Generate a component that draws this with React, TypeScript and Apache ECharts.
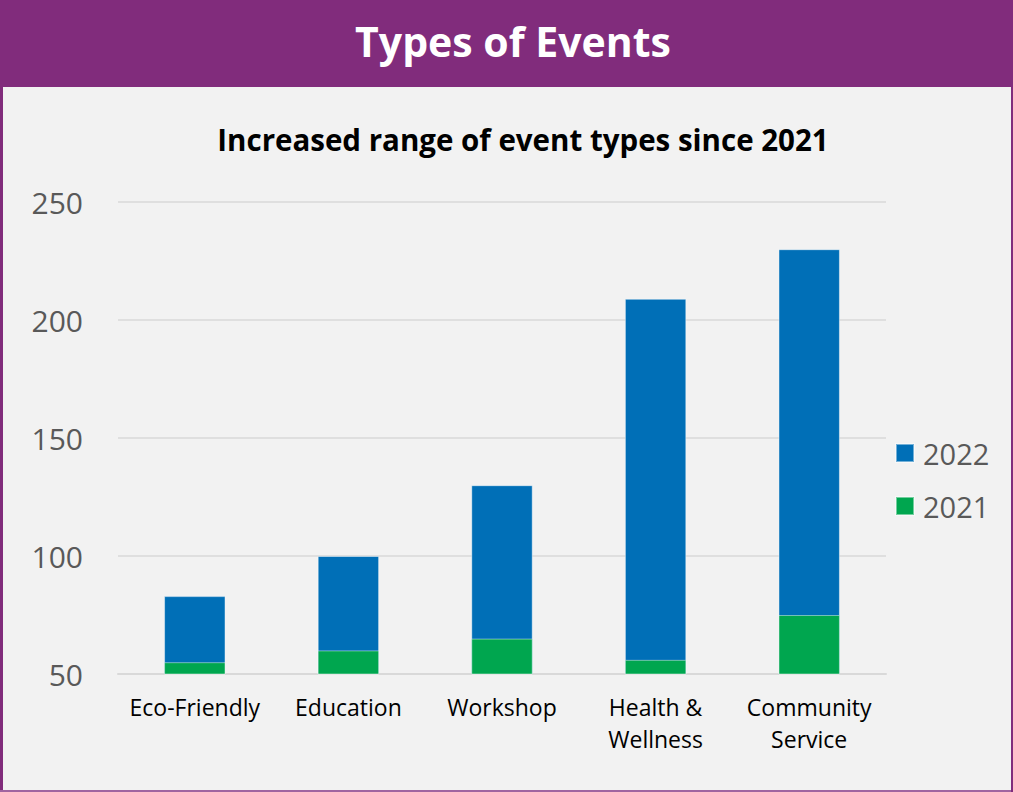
import React, { useEffect, useRef } from "react";
import * as echarts from "echarts";

const categories = ["Eco-Friendly", "Education", "Workshop", "Health &\nWellness", "Community\nService"];
const values2022 = [83, 100, 130, 209, 230];
const values2021 = [55, 60, 65, 56, 75];
const yTicks = { min: 50, max: 250, interval: 50 };

const FONT = "'Open Sans', Lato, sans-serif";
const PURPLE = "#812c7c";

export default function App() {
  const ref = useRef<HTMLDivElement>(null);
  useEffect(() => {
    if (!ref.current) return;
    const chart = echarts.init(ref.current, null, { renderer: "svg" });
    chart.setOption({
      animation: false,
      backgroundColor: "#f2f2f2",
      textStyle: { fontFamily: FONT },
      title: [
        {
          text: "Types of Events",
          left: 508,
          textAlign: "center",
          top: 15,
          textStyle: { color: "#ffffff", fontSize: 41, fontWeight: "bold", fontFamily: FONT },
        },
        {
          text: "Increased range of event types since 2021",
          left: 518,
          textAlign: "center",
          top: 119,
          textStyle: { color: "#000000", fontSize: 29.5, fontWeight: "bold", fontFamily: FONT },
        },
      ],
      graphic: [
        { type: "rect", z: -1, shape: { x: 0, y: 0, width: 1013, height: 87 }, style: { fill: PURPLE } },
        { type: "rect", shape: { x: 0, y: 0, width: 3, height: 792 }, style: { fill: PURPLE } },
        { type: "rect", shape: { x: 0, y: 790, width: 1013, height: 2 }, style: { fill: "#a064a0" } },
        { type: "rect", shape: { x: 1011, y: 0, width: 2, height: 792 }, style: { fill: PURPLE } },
      ],
      legend: {
        orient: "vertical",
        left: 895,
        top: 438,
        padding: 0,
        itemWidth: 18,
        itemHeight: 18,
        itemGap: 23,
        icon: "rect",
        data: ["2022", "2021"],
        textStyle: { color: "#595959", fontSize: 29, lineHeight: 30, fontFamily: FONT, padding: [0, 0, 0, 4] },
      },
      grid: { left: 118, right: 127, top: 202, bottom: 118 },
      xAxis: {
        type: "category",
        data: categories,
        axisLine: { show: true, lineStyle: { color: "#d9d9d9", width: 2 } },
        axisTick: { show: false },
        axisLabel: { color: "#000000", fontSize: 23, fontFamily: FONT, margin: 17, lineHeight: 32, interval: 0 },
      },
      yAxis: {
        type: "value",
        min: yTicks.min,
        max: yTicks.max,
        interval: yTicks.interval,
        axisLine: { show: false },
        axisTick: { show: false },
        splitLine: { lineStyle: { color: "#d9d9d9", width: 1.5 } },
        axisLabel: { color: "#595959", fontSize: 30, fontFamily: FONT, margin: 35 },
      },
      series: [
        {
          name: "2022",
          type: "bar",
          data: values2022,
          barWidth: "40%",
          barGap: "-100%",
          itemStyle: { color: "#006fb7", borderColor: "rgba(255,255,255,0.45)", borderWidth: 1 },
        },
        {
          name: "2021",
          type: "bar",
          data: values2021,
          barWidth: "40%",
          barGap: "-100%",
          itemStyle: { color: "#00a64f", borderColor: "rgba(255,255,255,0.45)", borderWidth: 1 },
        },
      ],
    });
    return () => chart.dispose();
  }, []);
  return (
    <div
      ref={ref}
      style={{ position: "fixed", left: 0, top: 0, width: 1013, height: 792 }}
    />
  );
}
